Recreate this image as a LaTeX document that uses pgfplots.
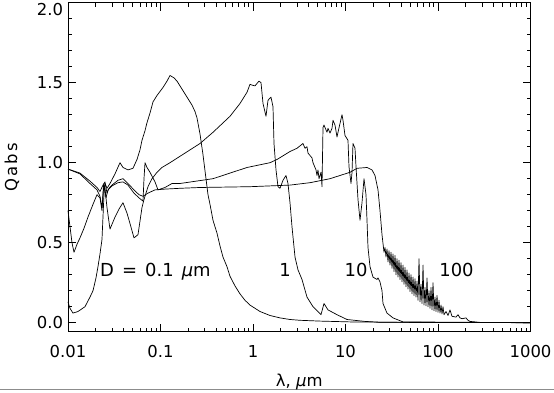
\documentclass[border=0pt]{standalone}
\usepackage{fontspec}
\setmainfont{DejaVu Sans}
\newfontfamily\widefont[LetterSpace=12]{DejaVu Sans}
\usepackage{pgfplots}
\pgfplotsset{compat=1.18}
\newcommand{\tickfont}{\fontsize{16.5}{18}\selectfont}
\newcommand{\lblfont}{\fontsize{18}{20}\selectfont}
\pgfplotsset{curve/.style={black, line width=0.7bp, line join=round, mark=none}}

\begin{document}
\begin{tikzpicture}
\begin{axis}[
  scale only axis,
  width=462.5bp, height=329bp,
  xmode=log, xmin=0.01, xmax=1000,
  ymin=-0.0563, ymax=2.0,
  xtick={0.01,0.1,1,10,100,1000},
  xticklabels={0.01,0.1,1,10,100,1000},
  minor xtick={0.02,0.03,0.04,0.05,0.06,0.07,0.08,0.09,
    0.2,0.3,0.4,0.5,0.6,0.7,0.8,0.9,2,3,4,5,6,7,8,9,
    20,30,40,50,60,70,80,90,200,300,400,500,600,700,800,900},
  ytick={0,0.5,1,1.5,2},
  yticklabels={0.0,0.5,1.0,1.5,{\raisebox{-13bp}[0pt][0pt]{2.0}}},
  minor y tick num=4,
  tick align=inside,
  major tick length=8bp, minor tick length=4bp,
  tick label style={font=\tickfont},
  xticklabel style={yshift=-10bp},
  yticklabel style={xshift=-1.5bp},
  axis line style={line width=0.8bp},
  every tick/.style={black, line width=0.7bp},
  xlabel={λ, {\itshape μ}m},
  ylabel={{\widefont Qabs}},
  xlabel style={font=\tickfont, at={(rel axis cs:0.5,-0.168)}, anchor=base},
  ylabel style={font=\tickfont, at={(rel axis cs:-0.110,0.5)}, anchor=base},
  clip=false,
]
% D = 0.1 um
\addplot[curve] coordinates {
 (0.01,0.13) (0.01051,0.09) (0.01132,0.06) (0.01283,0.07) (0.01527,0.10)
 (0.01729,0.16) (0.01864,0.20) (0.02008,0.28) (0.02110,0.35) (0.02218,0.43)
 (0.02331,0.52) (0.02389,0.66) (0.02450,0.80) (0.02512,0.87) (0.02640,0.84)
 (0.02845,0.87) (0.03222,0.93) (0.03650,1.0) (0.03932,0.97) (0.04453,0.955)
 (0.05043,0.965) (0.05572,1.02) (0.06003,1.08) (0.06310,1.14) (0.06801,1.20)
 (0.07147,1.25) (0.07701,1.31) (0.08298,1.38) (0.09166,1.42) (0.1064,1.47)
 (0.1176,1.51) (0.1267,1.545) (0.1400,1.53) (0.1508,1.51) (0.1751,1.45)
 (0.1983,1.40) (0.2191,1.36) (0.2360,1.32) (0.2481,1.28) (0.2673,1.18)
 (0.2881,1.05) (0.3028,0.95) (0.3263,0.80) (0.3429,0.74) (0.3696,0.64)
 (0.4081,0.56) (0.4397,0.48) (0.4740,0.41) (0.5236,0.35) (0.5642,0.29)
 (0.6390,0.23) (0.7236,0.18) (0.8195,0.14) (0.9282,0.11) (1.190,0.07)
 (1.527,0.045) (1.959,0.03) (2.512,0.02) (3.222,0.015) (5.301,0.01)
 (11.18,0.005) (38.84,0.002) (1000,0)
};
% D = 1 um
\addplot[curve] coordinates {
 (0.01,0.70) (0.01051,0.60) (0.01105,0.50) (0.01161,0.44) (0.01251,0.49)
 (0.01348,0.53) (0.01489,0.59) (0.01645,0.66) (0.01864,0.74) (0.02059,0.80)
 (0.02218,0.78) (0.02331,0.70) (0.02420,0.86) (0.02512,0.84) (0.02640,0.72)
 (0.02845,0.585) (0.03222,0.66) (0.03559,0.71) (0.03932,0.75) (0.04343,0.685)
 (0.04681,0.62) (0.05171,0.53) (0.05713,0.55) (0.06310,0.72) (0.06633,0.77)
 (0.07328,0.85) (0.08093,0.90) (0.09166,0.94) (0.1038,0.97) (0.1267,1.0)
 (0.1625,1.04) (0.2084,1.08) (0.2673,1.12) (0.3696,1.19) (0.5642,1.29)
 (0.7236,1.37) (0.8612,1.44) (0.9282,1.49) (0.9754,1.485) (1.051,1.48)
 (1.161,1.51) (1.221,1.50) (1.283,1.37) (1.382,1.29) (1.453,1.39)
 (1.565,1.41) (1.645,1.35) (1.687,1.12) (1.773,0.955) (1.864,0.85)
 (1.959,0.84) (2.110,0.89) (2.274,0.92) (2.389,0.87) (2.512,0.75)
 (2.640,0.60) (2.846,0.41) (3.066,0.33) (3.387,0.27) (3.836,0.16)
 (4.453,0.10) (5.434,0.05) (5.856,0.12) (6.470,0.08) (8.093,0.05)
 (10.38,0.02) (16.25,0.008) (23.60,0.003) (1000,0)
};
% D = 10 um
\addplot[curve] coordinates {
 (0.01,0.96) (0.01348,0.93) (0.01729,0.87) (0.02059,0.83) (0.02218,0.79)
 (0.02331,0.72) (0.02450,0.87) (0.02575,0.78) (0.02707,0.83) (0.02990,0.855)
 (0.03471,0.875) (0.03932,0.88) (0.04453,0.86) (0.05171,0.81) (0.05856,0.78)
 (0.06470,0.76) (0.06633,0.90) (0.06801,1.0) (0.07147,0.97) (0.07701,0.94)
 (0.08721,0.88) (0.09397,0.83) (0.1118,0.845) (0.1332,0.87) (0.1625,0.87)
 (0.3696,0.90) (0.8612,0.97) (1.527,1.0) (1.818,1.02) (2.512,1.07)
 (2.990,1.09) (3.471,1.12) (3.650,1.09) (3.836,1.10) (3.932,1.06)
 (4.343,1.03) (4.453,1.0) (4.799,0.955) (4.919,0.92) (5.043,0.955)
 (5.171,0.90) (5.434,0.94) (5.572,0.85) (5.713,1.22) (5.856,1.235)
 (6.310,1.19) (6.470,1.215) (6.801,1.185) (7.147,1.215) (7.328,1.265)
 (7.701,1.235) (8.093,1.16) (8.298,1.19) (8.721,1.245) (9.166,1.30)
 (9.397,1.265) (9.876,1.17) (10.64,1.14) (10.91,0.975) (11.47,0.87)
 (11.76,0.94) (12.05,1.12) (12.67,1.09) (12.99,0.975) (13.65,0.77)
 (14.35,0.64) (15.08,0.75) (15.85,0.90) (16.66,0.80) (17.08,0.64)
 (17.51,0.47) (18.41,0.35) (19.83,0.285) (21.91,0.27) (22.46,0.28)
 (23.60,0.255) (24.81,0.20) (25.43,0.12) (28.09,0.06) (32.63,0.03)
 (41.84,0.005) (1000,0)
};
% D = 100 um
\addplot[curve] coordinates {
 (0.01,0.96) (0.01348,0.935) (0.01729,0.885) (0.02059,0.845) (0.02218,0.82)
 (0.02389,0.86) (0.02512,0.88) (0.02640,0.81) (0.02775,0.84) (0.02990,0.86)
 (0.03471,0.89) (0.03932,0.90) (0.04453,0.87) (0.05171,0.83) (0.05856,0.80)
 (0.06470,0.79) (0.07328,0.81) (0.08721,0.83) (0.1118,0.835) (0.1625,0.84)
 (0.2673,0.845) (0.9282,0.85) (2.512,0.86) (4.133,0.875) (6.801,0.90)
 (11.18,0.94) (13.32,0.965) (17.08,0.97) (19.34,0.955) (20.84,0.92)
 (22.46,0.83) (23.60,0.70) (24.81,0.55)
 (26.08,0.44) (26.74,0.47) (27.41,0.41) (28.10,0.46) (28.81,0.38)
 (29.54,0.45) (30.28,0.36) (31.05,0.44) (31.83,0.34) (32.63,0.43)
 (33.45,0.32) (34.30,0.42) (35.16,0.30) (36.05,0.40) (36.96,0.285)
 (37.89,0.39) (38.84,0.27) (39.82,0.375) (40.83,0.255) (41.86,0.36)
 (42.91,0.24) (43.99,0.345) (45.10,0.225) (46.24,0.33) (47.40,0.21)
 (48.60,0.31) (49.82,0.195) (51.08,0.30) (52.37,0.18) (53.69,0.285)
 (55.04,0.17) (56.43,0.275) (57.85,0.16) (59.31,0.26) (60.80,0.14)
 (62.34,0.40) (63.91,0.13) (65.52,0.24) (67.17,0.12) (68.86,0.36)
 (70.60,0.11) (72.38,0.22) (74.20,0.105) (76.07,0.28) (77.99,0.10)
 (79.95,0.20) (81.97,0.09) (84.03,0.22) (86.15,0.08) (88.32,0.25)
 (90.55,0.075) (92.83,0.16) (95.17,0.07) (97.57,0.17) (100.0,0.065)
 (102.5,0.14) (105.1,0.06) (107.8,0.11) (110.5,0.055) (113.3,0.10)
 (116.1,0.05) (122.1,0.07) (128.3,0.045) (134.8,0.08) (141.7,0.04)
 (156.5,0.035) (164.5,0.05) (172.9,0.03) (181.7,0.025) (200.7,0.03)
 (211.0,0.015) (221.8,0.008) (284.5,0.002) (1000,0)
};
\node[font=\lblfont, anchor=base west, inner sep=0pt] at (axis cs:0.02218,0.286)
  {D\hspace{0.45em}=\hspace{0.45em}0.1\hspace{0.45em}{\itshape μ}m};
\node[font=\lblfont, anchor=base, inner sep=0pt] at (axis cs:2.218,0.286) {1};
\node[font=\lblfont, anchor=base, inner sep=0pt] at (axis cs:12.99,0.286) {10};
\node[font=\lblfont, anchor=base, inner sep=0pt] at (axis cs:158.5,0.286) {100};
\draw[black!45, line width=1.5bp] (rel axis cs:-0.147,-0.1757) -- (rel axis cs:1.0508,-0.1757);
\coordinate (bl) at (rel axis cs:-0.147,-0.1833);
\coordinate (tr) at (rel axis cs:1.0508,1.0082);
\end{axis}
\pgfresetboundingbox
\path[use as bounding box] (bl) rectangle (tr);
\end{tikzpicture}
\end{document}
